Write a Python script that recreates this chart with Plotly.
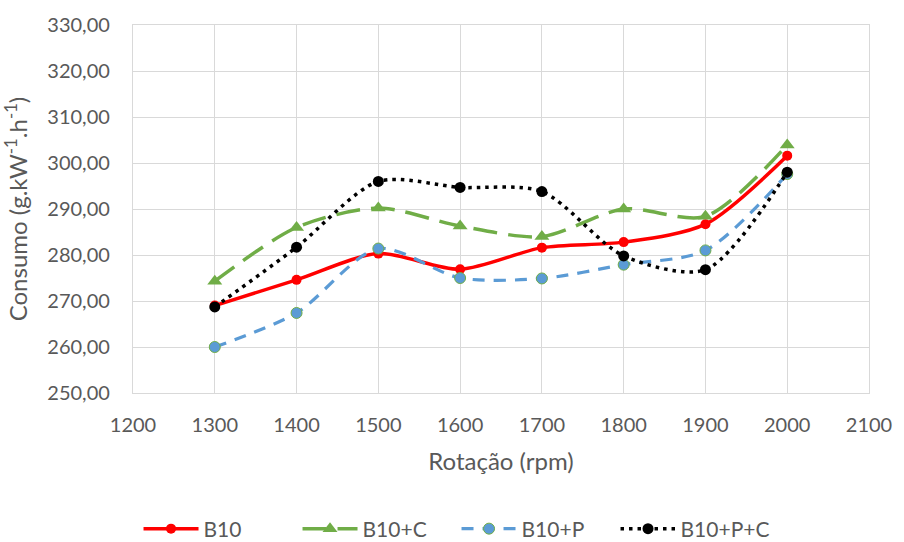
import plotly.graph_objects as go

# Engine speed (rpm) and specific fuel consumption for each blend
rotacao = [1300, 1400, 1500, 1600, 1700, 1800, 1900, 2000]
b10 = [269.0, 274.6, 280.3, 276.9, 281.6, 282.8, 286.7, 301.6]
b10_c = [274.3, 286.0, 290.2, 286.3, 284.0, 290.0, 288.4, 303.9]
b10_p = [260.0, 267.4, 281.4, 275.0, 274.9, 277.9, 281.0, 297.6]
b10_p_c = [268.7, 281.7, 296.0, 294.7, 293.8, 279.8, 276.8, 298.0]

x_ticks = [1200, 1300, 1400, 1500, 1600, 1700, 1800, 1900, 2000, 2100]
x_tick_labels = [str(v) for v in x_ticks]
y_ticks = [250, 260, 270, 280, 290, 300, 310, 320, 330]
y_tick_labels = [f"{v},00" for v in y_ticks]

FONT = "Lato, 'Open Sans', sans-serif"
TXT = "#595959"
GRID = "#d9d9d9"

fig = go.Figure()

fig.add_trace(go.Scatter(
    x=rotacao, y=b10, name="B10", mode="lines+markers",
    line=dict(color="#ff0000", width=3.5, shape="spline", smoothing=0.8),
    marker=dict(symbol="circle", size=10, color="#ff0000"),
))
fig.add_trace(go.Scatter(
    x=rotacao, y=b10_c, name="B10+C", mode="lines+markers",
    line=dict(color="#70ad47", width=3.5, shape="spline", smoothing=0.8,
              dash="24px,11px"),
    marker=dict(symbol="triangle-up", size=13, color="#70ad47"),
))
fig.add_trace(go.Scatter(
    x=rotacao, y=b10_p, name="B10+P", mode="lines+markers",
    line=dict(color="#5b9bd5", width=3.2, shape="spline", smoothing=0.8,
              dash="12px,9px"),
    marker=dict(symbol="circle", size=11, color="#5b9bd5",
                line=dict(color="#70ad47", width=1)),
))
fig.add_trace(go.Scatter(
    x=rotacao, y=b10_p_c, name="B10+P+C", mode="lines+markers",
    line=dict(color="#000000", width=3.5, shape="spline", smoothing=0.8,
              dash="3.5px,5px"),
    marker=dict(symbol="circle", size=11, color="#000000"),
))

fig.update_layout(
    width=904, height=542,
    margin=dict(l=133, r=27, t=25, b=149),
    paper_bgcolor="white", plot_bgcolor="white",
    font=dict(family=FONT, size=20, color=TXT),
    showlegend=True,
    legend=dict(
        orientation="h", xref="container", yref="container",
        x=0.505, xanchor="center", y=0.024, yanchor="middle",
        font=dict(family=FONT, size=21, color=TXT),
        itemwidth=55, entrywidth=89, tracegroupgap=0,
    ),
)

fig.update_xaxes(
    range=[1200, 2100], tickvals=x_ticks, ticktext=x_tick_labels,
    tickfont=dict(family=FONT, size=20, color=TXT),
    showgrid=True, gridcolor=GRID, gridwidth=1.3,
    showline=True, linecolor=GRID, linewidth=1.3, mirror=True,
    zeroline=False, ticks="", ticklabelstandoff=14,
    title=dict(text="Rotação (rpm)", font=dict(family=FONT, size=24, color=TXT),
               standoff=18),
)
fig.update_yaxes(
    range=[250, 330], tickvals=y_ticks, ticktext=y_tick_labels,
    tickfont=dict(family=FONT, size=20, color=TXT),
    showgrid=True, gridcolor=GRID, gridwidth=1.3,
    showline=True, linecolor=GRID, linewidth=1.3, mirror=True,
    zeroline=False, ticks="", ticklabelstandoff=18,
    title=dict(text="Consumo (g.kW<sup>-1</sup>.h<sup>-1</sup>)",
               font=dict(family=FONT, size=24, color=TXT), standoff=12),
)

fig.write_html("out.html")
